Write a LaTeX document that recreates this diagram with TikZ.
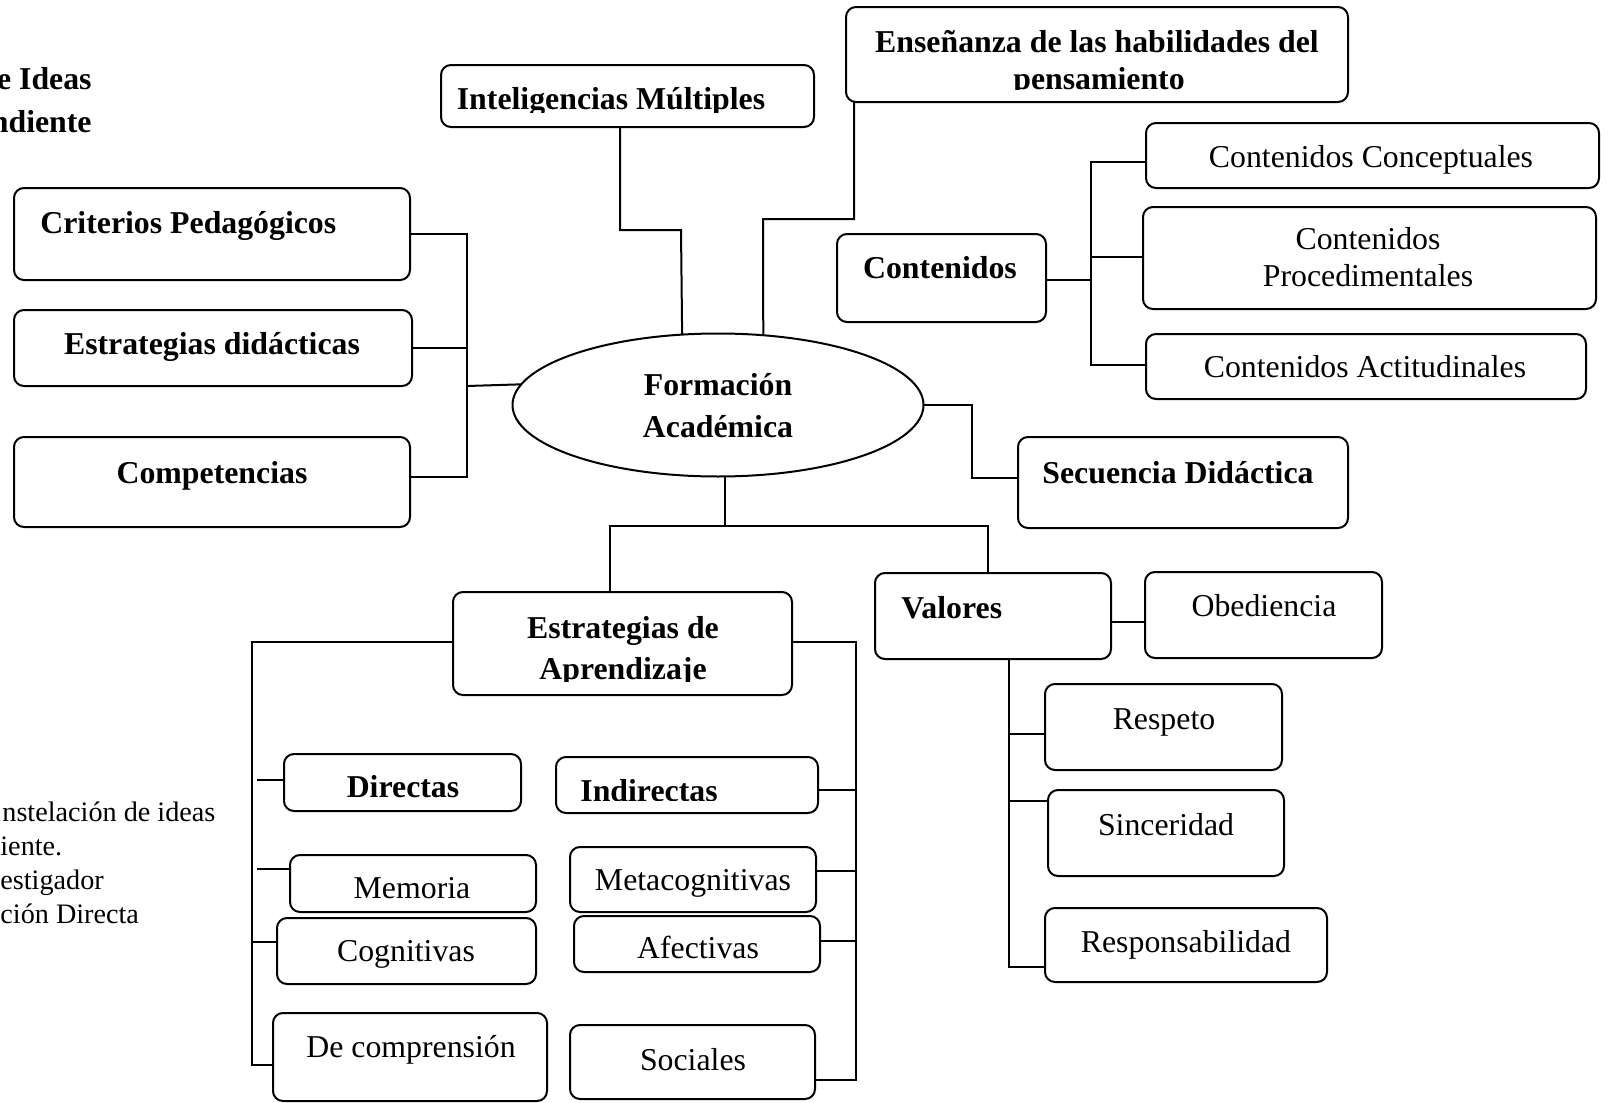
\documentclass[tikz,border=0pt]{standalone}
\usepackage{fontspec}
\setmainfont{Liberation Serif}
\usetikzlibrary{fit,shapes.geometric}
\begin{document}
\begin{tikzpicture}[x=0.5pt,y=-0.5pt,
  box/.style={draw, rounded corners=5pt, line width=1pt, inner sep=0pt, outer sep=0pt},
  conn/.style={line width=1pt},
  lbl/.style={inner sep=0pt, anchor=base, font=\fontsize{15.9}{19}\selectfont},
  blbl/.style={inner sep=0pt, anchor=base, font=\fontsize{15.9}{19}\selectfont\bfseries},
  captext/.style={inner sep=0pt, anchor=base west, font=\fontsize{14.1}{17}\selectfont}]
\useasboundingbox (0,0) rectangle (1608,1103);

% ---------- boxes ----------
\node[box, fit={(441,65) (814,127)}] (intel) {};
\node[box, fit={(846,7) (1348,102)}] (ens) {};
\node[box, fit={(14,188) (410,280)}] (crit) {};
\node[box, fit={(14,310) (412,386)}] (estd) {};
\node[box, fit={(14,437) (410,527)}] (comp) {};
\node[box, fit={(837,234) (1046,322)}] (cont) {};
\node[box, fit={(1146,123) (1599,188)}] (conc) {};
\node[box, fit={(1143,207) (1596,309)}] (proc) {};
\node[box, fit={(1146,334) (1586,399)}] (acti) {};
\node[draw, ellipse, line width=1pt, minimum width=205.5pt, minimum height=71.5pt, inner sep=0pt, outer sep=0pt] (fa) at (718,405) {};
\node[box, fit={(1018,437) (1348,528)}] (sec) {};
\node[box, fit={(453,592) (792,695)}] (eap) {};
\node[box, fit={(875,573) (1111,659)}] (val) {};
\node[box, fit={(1145,572) (1382,658)}] (obe) {};
\node[box, fit={(1045,684) (1282,770)}] (res) {};
\node[box, fit={(1048,790) (1284,876)}] (sin) {};
\node[box, fit={(1045,908) (1327,982)}] (rsp) {};
\node[box, fit={(284,754) (521,811)}] (dir) {};
\node[box, fit={(556,757) (818,813)}] (ind) {};
\node[box, fit={(290,855) (536,912)}] (mem) {};
\node[box, fit={(570,847) (816,912)}] (met) {};
\node[box, fit={(277,918) (536,984)}] (cog) {};
\node[box, fit={(574,916) (820,972)}] (afe) {};
\node[box, fit={(273,1013) (547,1101)}] (dec) {};
\node[box, fit={(570,1025) (815,1099)}] (soc) {};

% ---------- texts ----------
\begin{scope}
  \clip (441,65) rectangle (814,112);
  \node[blbl] (t-intel) at (611,109) {Inteligencias Múltiples};
\end{scope}
\begin{scope}
  \clip (846,7) rectangle (1348,89.5);
  \node[blbl] (t-ens1) at (1097,53) {Enseñanza de las habilidades del};
  \node[blbl] (t-ens2) at (1099,89) {pensamiento};
\end{scope}
\node[blbl, anchor=base west] (t-crit) at (40,233) {Criterios Pedagógicos};
\node[blbl] (t-estd) at (212,354) {Estrategias didácticas};
\node[blbl] (t-comp) at (212,483) {Competencias};
\node[blbl] (t-cont) at (940,278) {Contenidos};
\node[lbl] (t-conc) at (1371,167) {Contenidos Conceptuales};
\node[lbl] (t-proc1) at (1368,249) {Contenidos};
\node[lbl] (t-proc2) at (1368,286) {Procedimentales};
\node[lbl] (t-acti) at (1365,377) {Contenidos Actitudinales};
\node[blbl] (t-fa1) at (718,395) {Formación};
\node[blbl] (t-fa2) at (718,437) {Académica};
\node[blbl] (t-sec) at (1178,483) {Secuencia Didáctica};
\begin{scope}
  \clip (453,592) rectangle (792,681);
  \node[blbl] (t-eap1) at (623,638) {Estrategias de};
  \node[blbl] (t-eap2) at (623,679) {Aprendizaje};
\end{scope}
\node[blbl, anchor=base west] (t-val) at (901,618) {Valores};
\node[lbl] (t-obe) at (1264,616) {Obediencia};
\node[lbl] (t-res) at (1164,729) {Respeto};
\node[lbl] (t-sin) at (1166,835) {Sinceridad};
\node[lbl] (t-rsp) at (1186,952) {Responsabilidad};
\node[blbl] (t-dir) at (403,797) {Directas};
\begin{scope}
  \clip (556,757) rectangle (818,800);
  \node[blbl, anchor=base west] (t-ind) at (580,801) {Indirectas};
\end{scope}
\node[lbl] (t-mem) at (412,898) {Memoria};
\node[lbl] (t-met) at (693,890) {Metacognitivas};
\node[lbl] (t-cog) at (406,961) {Cognitivas};
\node[lbl] (t-afe) at (698,958) {Afectivas};
\node[lbl] (t-dec) at (411,1057) {De comprensión};
\node[lbl] (t-soc) at (693,1070) {Sociales};

% ---------- partial texts at the left edge ----------
\node[blbl, anchor=base east] (t-tl1) at (92,90) {e Ideas};
\node[blbl, anchor=base east] (t-tl2) at (92,132) {ndiente};
\node[captext] (t-c1) at (2,821) {nstelación de ideas};
\node[captext] (t-c2) at (0,855) {iente.};
\node[captext] (t-c3) at (0,889) {estigador};
\node[captext] (t-c4) at (0,923) {ción Directa};

% ---------- connectors ----------
% left group
\draw[conn] (crit.east |- 0,234) -- (467,234) -- (467,477) -- (comp.east |- 0,477);
\draw[conn] (estd.east |- 0,348) -- (467,348);
\draw[conn] (467,386) -- (fa.174.5);
% top
\draw[conn] (intel.south -| 620,0) -- (620,230) -- (681,230) -- (fa.117.8);
\draw[conn] (ens.south -| 854,0) -- (854,219) -- (763,219) -- (fa.57.2);
% right
\draw[conn] (fa.east) -| (972,478) -- (sec.west |- 0,478);
% bottom
\draw[conn] (fa.south -| 725,0) -- (725,526);
\draw[conn] (eap.north -| 610,0) -- (610,526) -- (988,526) -- (val.north -| 988,0);
% contenidos
\draw[conn] (cont.east |- 0,280) -- (1091,280);
\draw[conn] (conc.west |- 0,162) -- (1091,162) -- (1091,365) -- (acti.west |- 0,365);
\draw[conn] (1091,257) -- (proc.west |- 0,257);
% valores
\draw[conn] (val.east |- 0,622) -- (obe.west |- 0,622);
\draw[conn] (val.south -| 1009,0) -- (1009,967) -- (rsp.west |- 0,967);
\draw[conn] (1009,734) -- (res.west |- 0,734);
\draw[conn] (1009,801) -- (sin.west |- 0,801);
% estrategias de aprendizaje
\draw[conn] (eap.west |- 0,642) -- (252,642) -- (252,1065) -- (dec.west |- 0,1065);
\draw[conn] (257,780) -- (dir.west |- 0,780);
\draw[conn] (257,869) -- (mem.west |- 0,869);
\draw[conn] (253,942) -- (cog.west |- 0,942);
\draw[conn] (eap.east |- 0,642) -- (856,642) -- (856,1080) -- (soc.east |- 0,1080);
\draw[conn] (856,790) -- (ind.east |- 0,790);
\draw[conn] (856,871) -- (met.east |- 0,871);
\draw[conn] (856,941) -- (afe.east |- 0,941);
\end{tikzpicture}
\end{document}
